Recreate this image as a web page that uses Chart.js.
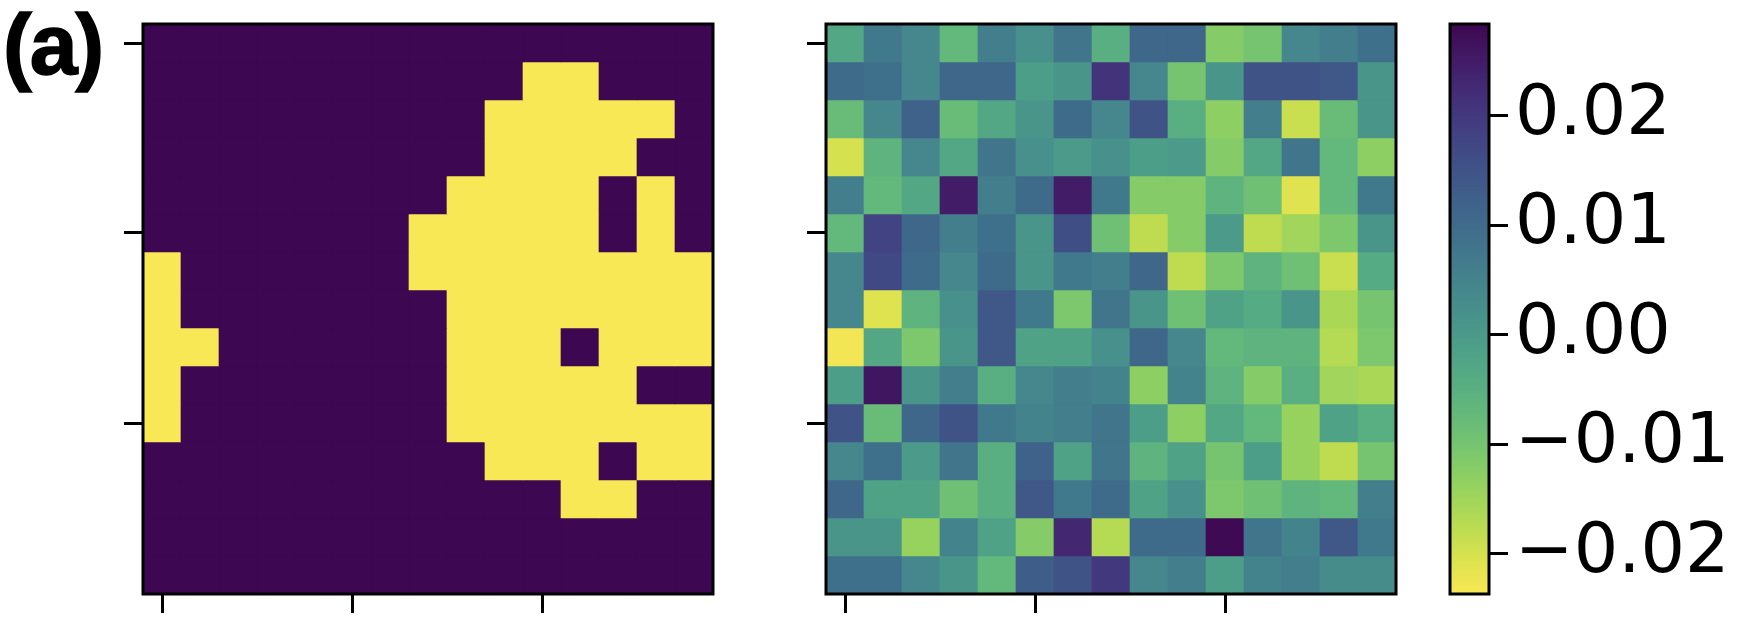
<!DOCTYPE html>
<html lang="en">
<head>
<meta charset="UTF-8">
<title>Mask and field heatmaps</title>
<script src="https://cdn.jsdelivr.net/npm/chart.js"></script>
<style>
    body { margin: 0; background: #fff; }
    #wrap { position: relative; width: 1740px; height: 634px; overflow: hidden; }
    canvas { position: absolute; top: 0; }
    #panelLabel { position: absolute; left: 3px; top: 1px; font: bold 86px "Liberation Sans", Arial, sans-serif; line-height: 1; letter-spacing: -2px; -webkit-text-stroke: 1.5px #000; color: #000; }
</style>
</head>
<body>
<div id="wrap">
    <div id="panelLabel">(a)</div>
    <canvas id="maskChart" width="740" height="634" style="left:0px"></canvas>
    <canvas id="fieldChart" width="690" height="634" style="left:740px"></canvas>
    <canvas id="cbarChart" width="310" height="634" style="left:1430px"></canvas>
</div>

<script>
// left panel: binary mask, 15 x 15, row 0 at the top (1 = yellow)
const maskGrid = [
    [0,0,0,0,0,0,0,0,0,0,0,0,0,0,0],
    [0,0,0,0,0,0,0,0,0,0,1,1,0,0,0],
    [0,0,0,0,0,0,0,0,0,1,1,1,1,1,0],
    [0,0,0,0,0,0,0,0,0,1,1,1,1,0,0],
    [0,0,0,0,0,0,0,0,1,1,1,1,0,1,0],
    [0,0,0,0,0,0,0,1,1,1,1,1,0,1,0],
    [1,0,0,0,0,0,0,1,1,1,1,1,1,1,1],
    [1,0,0,0,0,0,0,0,1,1,1,1,1,1,1],
    [1,1,0,0,0,0,0,0,1,1,1,0,1,1,1],
    [1,0,0,0,0,0,0,0,1,1,1,1,1,0,0],
    [1,0,0,0,0,0,0,0,1,1,1,1,1,1,1],
    [0,0,0,0,0,0,0,0,0,1,1,1,0,1,1],
    [0,0,0,0,0,0,0,0,0,0,0,1,1,0,0],
    [0,0,0,0,0,0,0,0,0,0,0,0,0,0,0],
    [0,0,0,0,0,0,0,0,0,0,0,0,0,0,0]
];

// right panel: field values, 15 x 15, row 0 at the top
const fieldGrid = [
    [-0.003, 0.007, 0.004,-0.007, 0.006, 0.002, 0.008,-0.005, 0.011, 0.011,-0.012,-0.010, 0.004, 0.006, 0.009],
    [ 0.010, 0.009, 0.004, 0.011, 0.011,-0.001, 0.001, 0.021, 0.004,-0.010, 0.001, 0.015, 0.015, 0.014, 0.001],
    [-0.008, 0.004, 0.012,-0.008,-0.003, 0.001, 0.010, 0.004, 0.015,-0.005,-0.013, 0.006,-0.019,-0.008, 0.001],
    [-0.020,-0.006, 0.004,-0.003, 0.008, 0.002, 0.000, 0.002,-0.001, 0.000,-0.012,-0.003, 0.008,-0.007,-0.013],
    [ 0.006,-0.007,-0.003, 0.025, 0.006, 0.010, 0.025, 0.007,-0.012,-0.012,-0.006,-0.009,-0.021,-0.007, 0.007],
    [-0.007, 0.018, 0.011, 0.006, 0.009, 0.001, 0.016,-0.009,-0.018,-0.012, 0.000,-0.018,-0.015,-0.011, 0.001],
    [ 0.004, 0.017, 0.010, 0.004, 0.010, 0.001, 0.007, 0.006, 0.011,-0.018,-0.011,-0.006,-0.009,-0.019,-0.004],
    [ 0.004,-0.021,-0.006, 0.002, 0.014, 0.007,-0.011, 0.008, 0.001,-0.009,-0.002,-0.004, 0.001,-0.016,-0.010],
    [-0.023,-0.003,-0.011, 0.001, 0.014,-0.002,-0.002, 0.002, 0.011, 0.004,-0.007,-0.006,-0.006,-0.017,-0.011],
    [-0.001, 0.026, 0.001, 0.006,-0.005, 0.004, 0.006, 0.005,-0.013, 0.005,-0.006,-0.012,-0.005,-0.015,-0.016],
    [ 0.015,-0.008, 0.011, 0.015, 0.007, 0.005, 0.006, 0.008,-0.001,-0.013,-0.003,-0.007,-0.014,-0.002,-0.005],
    [ 0.004, 0.009, 0.000, 0.008,-0.005, 0.012,-0.002, 0.008,-0.006,-0.002,-0.010,-0.001,-0.014,-0.018,-0.010],
    [ 0.011,-0.002,-0.002,-0.009,-0.005, 0.014, 0.007, 0.010,-0.002, 0.002,-0.011,-0.009,-0.006,-0.007, 0.006],
    [ 0.001, 0.001,-0.014, 0.005,-0.002,-0.012, 0.023,-0.017, 0.010, 0.010, 0.028, 0.008, 0.005, 0.014, 0.007],
    [ 0.009, 0.009, 0.004, 0.001,-0.007, 0.013, 0.015, 0.020, 0.004, 0.006,-0.001, 0.005, 0.006, 0.003, 0.003]
];

const axisTicks = [0, 5, 10];
const cbarTicks = [0.02, 0.01, 0.00, -0.01, -0.02];
const cbarMin = -0.0237;
const cbarMax = 0.0284;

// viridis lookup (17 stops)
const VIRIDIS = ['#440154','#48186a','#472d7b','#424086','#3b528b','#33638d','#2c728e','#26828e',
                 '#21918c','#1fa088','#28ae80','#3fbc73','#5ec962','#84d44b','#addc30','#d8e219','#fde725'];

function hexRgb(h) {
    return [1, 3, 5].map(i => parseInt(h.slice(i, i + 2), 16));
}

// the reference was saved through a display-p3 profile, so colours look a bit flatter
function lin(c) { c /= 255; return c <= 0.04045 ? c / 12.92 : Math.pow((c + 0.055) / 1.055, 2.4); }
function gam(c) {
    c = c <= 0.0031308 ? c * 12.92 : 1.055 * Math.pow(c, 1 / 2.4) - 0.055;
    return Math.round(Math.max(0, Math.min(1, c)) * 255);
}
function shade(rgb) {
    let [r, g, b] = rgb.map(lin);
    return `rgb(${gam(0.8225 * r + 0.1774 * g)},${gam(0.0332 * r + 0.9669 * g)},${gam(0.0171 * r + 0.0724 * g + 0.9108 * b)})`;
}

function viridis(t) {
    t = Math.max(0, Math.min(1, t)) * 16;
    let i = Math.min(15, Math.floor(t)), f = t - i;
    let a = hexRgb(VIRIDIS[i]), b = hexRgb(VIRIDIS[i + 1]);
    return shade(a.map((v, k) => v + (b[k] - v) * f));
}

// colour of the field: viridis reversed, high values purple
function fieldColor(v) {
    return viridis((cbarMax - v) / (cbarMax - cbarMin));
}

const frame = {
    id: 'frame',
    afterDatasetsDraw(chart) {
        let a = chart.chartArea, ctx = chart.ctx;
        ctx.save();
        ctx.lineWidth = 3;
        ctx.strokeStyle = '#000';
        ctx.strokeRect(a.left, a.top, a.right - a.left, a.bottom - a.top);
        ctx.restore();
    }
};

function tickGrid() {
    return { drawOnChartArea: false, drawTicks: true, tickLength: 19, tickWidth: 3, tickColor: '#000', offset: false };
}

function heatmap(canvasId, grid, colorOf, padL, padR) {
    let datasets = grid.map((row, r) => ({
        data: row.map((v, c) => ({ x: c, y: [r - 0.5, r + 0.5] })),
        backgroundColor: row.map(colorOf),
        borderWidth: 0,
        barPercentage: 1,
        categoryPercentage: 1,
        grouped: false
    }));

    new Chart(document.getElementById(canvasId), {
        type: 'bar',
        data: { datasets: datasets },
        options: {
            responsive: false,
            animation: false,
            devicePixelRatio: 1,
            layout: { padding: { left: padL, right: padR, top: 24, bottom: 20 } },
            plugins: { legend: { display: false }, tooltip: { enabled: false } },
            scales: {
                x: {
                    type: 'linear', min: -0.5, max: 14.5, offset: false,
                    afterBuildTicks: s => { s.ticks = axisTicks.map(v => ({ value: v })); },
                    afterFit: s => { s.height = 20; },
                    ticks: { display: false },
                    grid: tickGrid(),
                    border: { display: false }
                },
                y: {
                    type: 'linear', min: -0.5, max: 14.5, reverse: true, offset: false,
                    afterBuildTicks: s => { s.ticks = axisTicks.map(v => ({ value: v })); },
                    afterFit: s => { s.width = 20; },
                    ticks: { display: false },
                    grid: tickGrid(),
                    border: { display: false }
                }
            }
        },
        plugins: [frame]
    });
}

heatmap('maskChart', maskGrid, v => viridis(v), 123, 27);
heatmap('fieldChart', fieldGrid, fieldColor, 66, 34);

// colorbar
new Chart(document.getElementById('cbarChart'), {
    type: 'bar',
    data: {
        labels: ['cbar'],
        datasets: [{
            data: [[cbarMin, cbarMax]],
            backgroundColor: c => {
                let a = c.chart.chartArea;
                if (!a) return null;
                let g = c.chart.ctx.createLinearGradient(0, a.top, 0, a.bottom);
                VIRIDIS.forEach((h, i) => g.addColorStop(i / 16, shade(hexRgb(h))));
                return g;
            },
            borderWidth: 0,
            barPercentage: 1,
            categoryPercentage: 1
        }]
    },
    options: {
        responsive: false,
        animation: false,
        devicePixelRatio: 1,
        layout: { padding: { left: 20, right: 0, top: 24, bottom: 40 } },
        plugins: { legend: { display: false }, tooltip: { enabled: false } },
        scales: {
            x: { display: false },
            y: {
                position: 'right',
                min: cbarMin, max: cbarMax,
                afterBuildTicks: s => { s.ticks = cbarTicks.map(v => ({ value: v })); },
                afterFit: s => { s.width = 251; s.paddingTop = 0; s.paddingBottom = 0; },
                ticks: {
                    color: '#000',
                    padding: 7,
                    font: { family: 'DejaVu Sans', size: 70 },
                    callback: v => (v < 0 ? '\u2212' : '') + Math.abs(v).toFixed(2)
                },
                grid: tickGrid(),
                border: { display: false }
            }
        }
    },
    plugins: [frame]
});
</script>
</body>
</html>
